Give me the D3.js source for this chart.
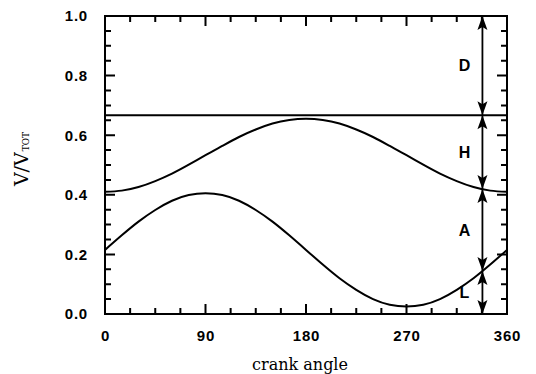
<!DOCTYPE html>
<html>
<head>
<meta charset="utf-8">
<script src="https://cdn.jsdelivr.net/npm/d3@7/dist/d3.min.js"></script>
<style>
  html, body { margin: 0; padding: 0; background: #fff; }
  svg { display: block; }
</style>
</head>
<body>
<script>
// Crank angle samples (degrees)
const angles = [0, 15, 30, 45, 60, 75, 90, 105, 120, 135, 150, 165, 180,
                195, 210, 225, 240, 255, 270, 285, 300, 315, 330, 345, 360];

// Upper volume boundary (V/Vtot)
const upperCurve = [0.410, 0.414, 0.426, 0.446, 0.471, 0.501, 0.533, 0.564, 0.594,
                    0.619, 0.639, 0.651, 0.655, 0.651, 0.639, 0.619, 0.594, 0.564,
                    0.533, 0.501, 0.471, 0.446, 0.426, 0.414, 0.410];

// Lower volume boundary (V/Vtot)
const lowerCurve = [0.215, 0.264, 0.310, 0.349, 0.380, 0.399, 0.405, 0.399, 0.380,
                    0.349, 0.310, 0.264, 0.215, 0.166, 0.120, 0.081, 0.050, 0.031,
                    0.025, 0.031, 0.050, 0.081, 0.120, 0.166, 0.215];

// Constant dead-volume level
const deadLevel = 0.667;

// Axis ticks
const xTicks = [0, 90, 180, 270, 360];
const yTicks = [0.0, 0.2, 0.4, 0.6, 0.8, 1.0];

// Crank angle where the volume split is annotated, and the region labels
const markerAngle = 338;
const regionLabels = ["D", "H", "A", "L"];

const W = 536, H = 374;
const plotL = 105, plotR = 507, plotT = 16, plotB = 314;

const svg = d3.select("body").append("svg")
  .attr("width", W).attr("height", H);

const x = d3.scaleLinear().domain([0, 360]).range([plotL, plotR]);
const y = d3.scaleLinear().domain([0, 1]).range([plotB, plotT]);

const xMinor = d3.range(0, 360.001, 22.5);
const yMinor = d3.range(0, 1.0001, 0.05);

const tickFont = "'Liberation Sans', Arial, sans-serif";
const serifFont = "'DejaVu Serif', 'Liberation Serif', serif";

const majorLen = 10, minorLen = 6;
const isMajorX = v => xTicks.some(t => Math.abs(t - v) < 1e-6);
const isMajorY = v => yTicks.some(t => Math.abs(t - v) < 1e-6);

// Inward ticks on all four sides
const tickPath = d3.path();
xMinor.forEach(v => {
  const len = isMajorX(v) ? majorLen : minorLen;
  tickPath.moveTo(x(v), plotB); tickPath.lineTo(x(v), plotB - len);
  tickPath.moveTo(x(v), plotT); tickPath.lineTo(x(v), plotT + len);
});
yMinor.forEach(v => {
  const len = isMajorY(v) ? majorLen : minorLen;
  tickPath.moveTo(plotL, y(v)); tickPath.lineTo(plotL + len, y(v));
  tickPath.moveTo(plotR, y(v)); tickPath.lineTo(plotR - len, y(v));
});
svg.append("path")
  .attr("d", tickPath.toString())
  .attr("fill", "none")
  .attr("stroke", "#000")
  .attr("stroke-width", 2);

function styleLabels(g) {
  g.select(".domain").remove();
  g.selectAll("line").remove();
  g.selectAll("text")
    .attr("font-family", tickFont).attr("font-weight", "bold")
    .attr("font-size", 15).attr("letter-spacing", 0.8).attr("fill", "#000");
}

// Tick labels
svg.append("g").attr("transform", `translate(0,${plotB})`)
  .call(d3.axisBottom(x).tickValues(xTicks).tickSize(0).tickPadding(16)
        .tickFormat(d3.format("d")))
  .call(styleLabels);
svg.append("g").attr("transform", `translate(${plotL},0)`)
  .call(d3.axisLeft(y).tickValues(yTicks).tickSize(0).tickPadding(17)
        .tickFormat(d3.format(".1f")))
  .call(styleLabels);

// Plot frame
svg.append("rect")
  .attr("x", plotL).attr("y", plotT)
  .attr("width", plotR - plotL).attr("height", plotB - plotT)
  .attr("fill", "none").attr("stroke", "#000").attr("stroke-width", 2);

// Dead-volume level
svg.append("line")
  .attr("x1", x(0)).attr("x2", x(360))
  .attr("y1", y(deadLevel)).attr("y2", y(deadLevel))
  .attr("stroke", "#000").attr("stroke-width", 1.8);

// Volume curves
const line = d3.line()
  .x((d, i) => x(angles[i]))
  .y(d => y(d))
  .curve(d3.curveNatural);

[upperCurve, lowerCurve].forEach(series => {
  svg.append("path")
    .attr("d", line(series))
    .attr("fill", "none")
    .attr("stroke", "#000")
    .attr("stroke-width", 2);
});

// Boundary levels at the annotated crank angle
const interp = (series, a) => {
  const i = Math.min(angles.length - 2, Math.floor(a / 15));
  const t = (a - angles[i]) / (angles[i + 1] - angles[i]);
  return series[i] + t * (series[i + 1] - series[i]);
};
const levels = [1.0, deadLevel, interp(upperCurve, markerAngle), interp(lowerCurve, markerAngle), 0.0];

const ax = x(markerAngle);
// Vertical annotation line
svg.append("line")
  .attr("x1", ax).attr("x2", ax)
  .attr("y1", y(1)).attr("y2", y(0))
  .attr("stroke", "#000").attr("stroke-width", 1.8);

// Arrow heads: each segment gets a head at both ends
const headW = 5, headH = 14;
function head(yTip, dir) {
  // dir = -1 points up, +1 points down
  const yb = yTip - dir * headH;
  return `M${ax},${yTip}L${ax - headW},${yb}L${ax},${yb + dir * 3}L${ax + headW},${yb}Z`;
}
for (let k = 0; k < levels.length - 1; k++) {
  const yA = y(levels[k]), yB = y(levels[k + 1]);
  svg.append("path").attr("d", head(yA, -1)).attr("fill", "#000");
  svg.append("path").attr("d", head(yB, 1)).attr("fill", "#000");
  svg.append("text")
    .attr("x", ax - 18)
    .attr("y", (yA + yB) / 2)
    .attr("dy", "0.36em")
    .attr("text-anchor", "middle")
    .attr("font-family", tickFont)
    .attr("font-weight", "bold")
    .attr("font-size", 16)
    .attr("fill", "#000")
    .text(regionLabels[k]);
}

// Axis titles
svg.append("text")
  .attr("x", (plotL + plotR) / 2 - 6)
  .attr("y", 370)
  .attr("text-anchor", "middle")
  .attr("font-family", serifFont)
  .attr("font-size", 16)
  .attr("fill", "#000")
  .text("crank angle");

// Rotated title sits in its own layer so it renders with plain grey antialiasing
const yt = svg.append("g").attr("opacity", 0.99)
  .append("text")
  .attr("transform", "translate(28,159) rotate(-90)")
  .attr("text-anchor", "middle")
  .attr("font-family", serifFont)
  .attr("font-size", 19)
  .attr("fill", "#000");
yt.append("tspan").text("V/V");
yt.append("tspan").attr("font-size", 9).attr("dy", 0.5).attr("dx", 1).text("TOT");
</script>
</body>
</html>
